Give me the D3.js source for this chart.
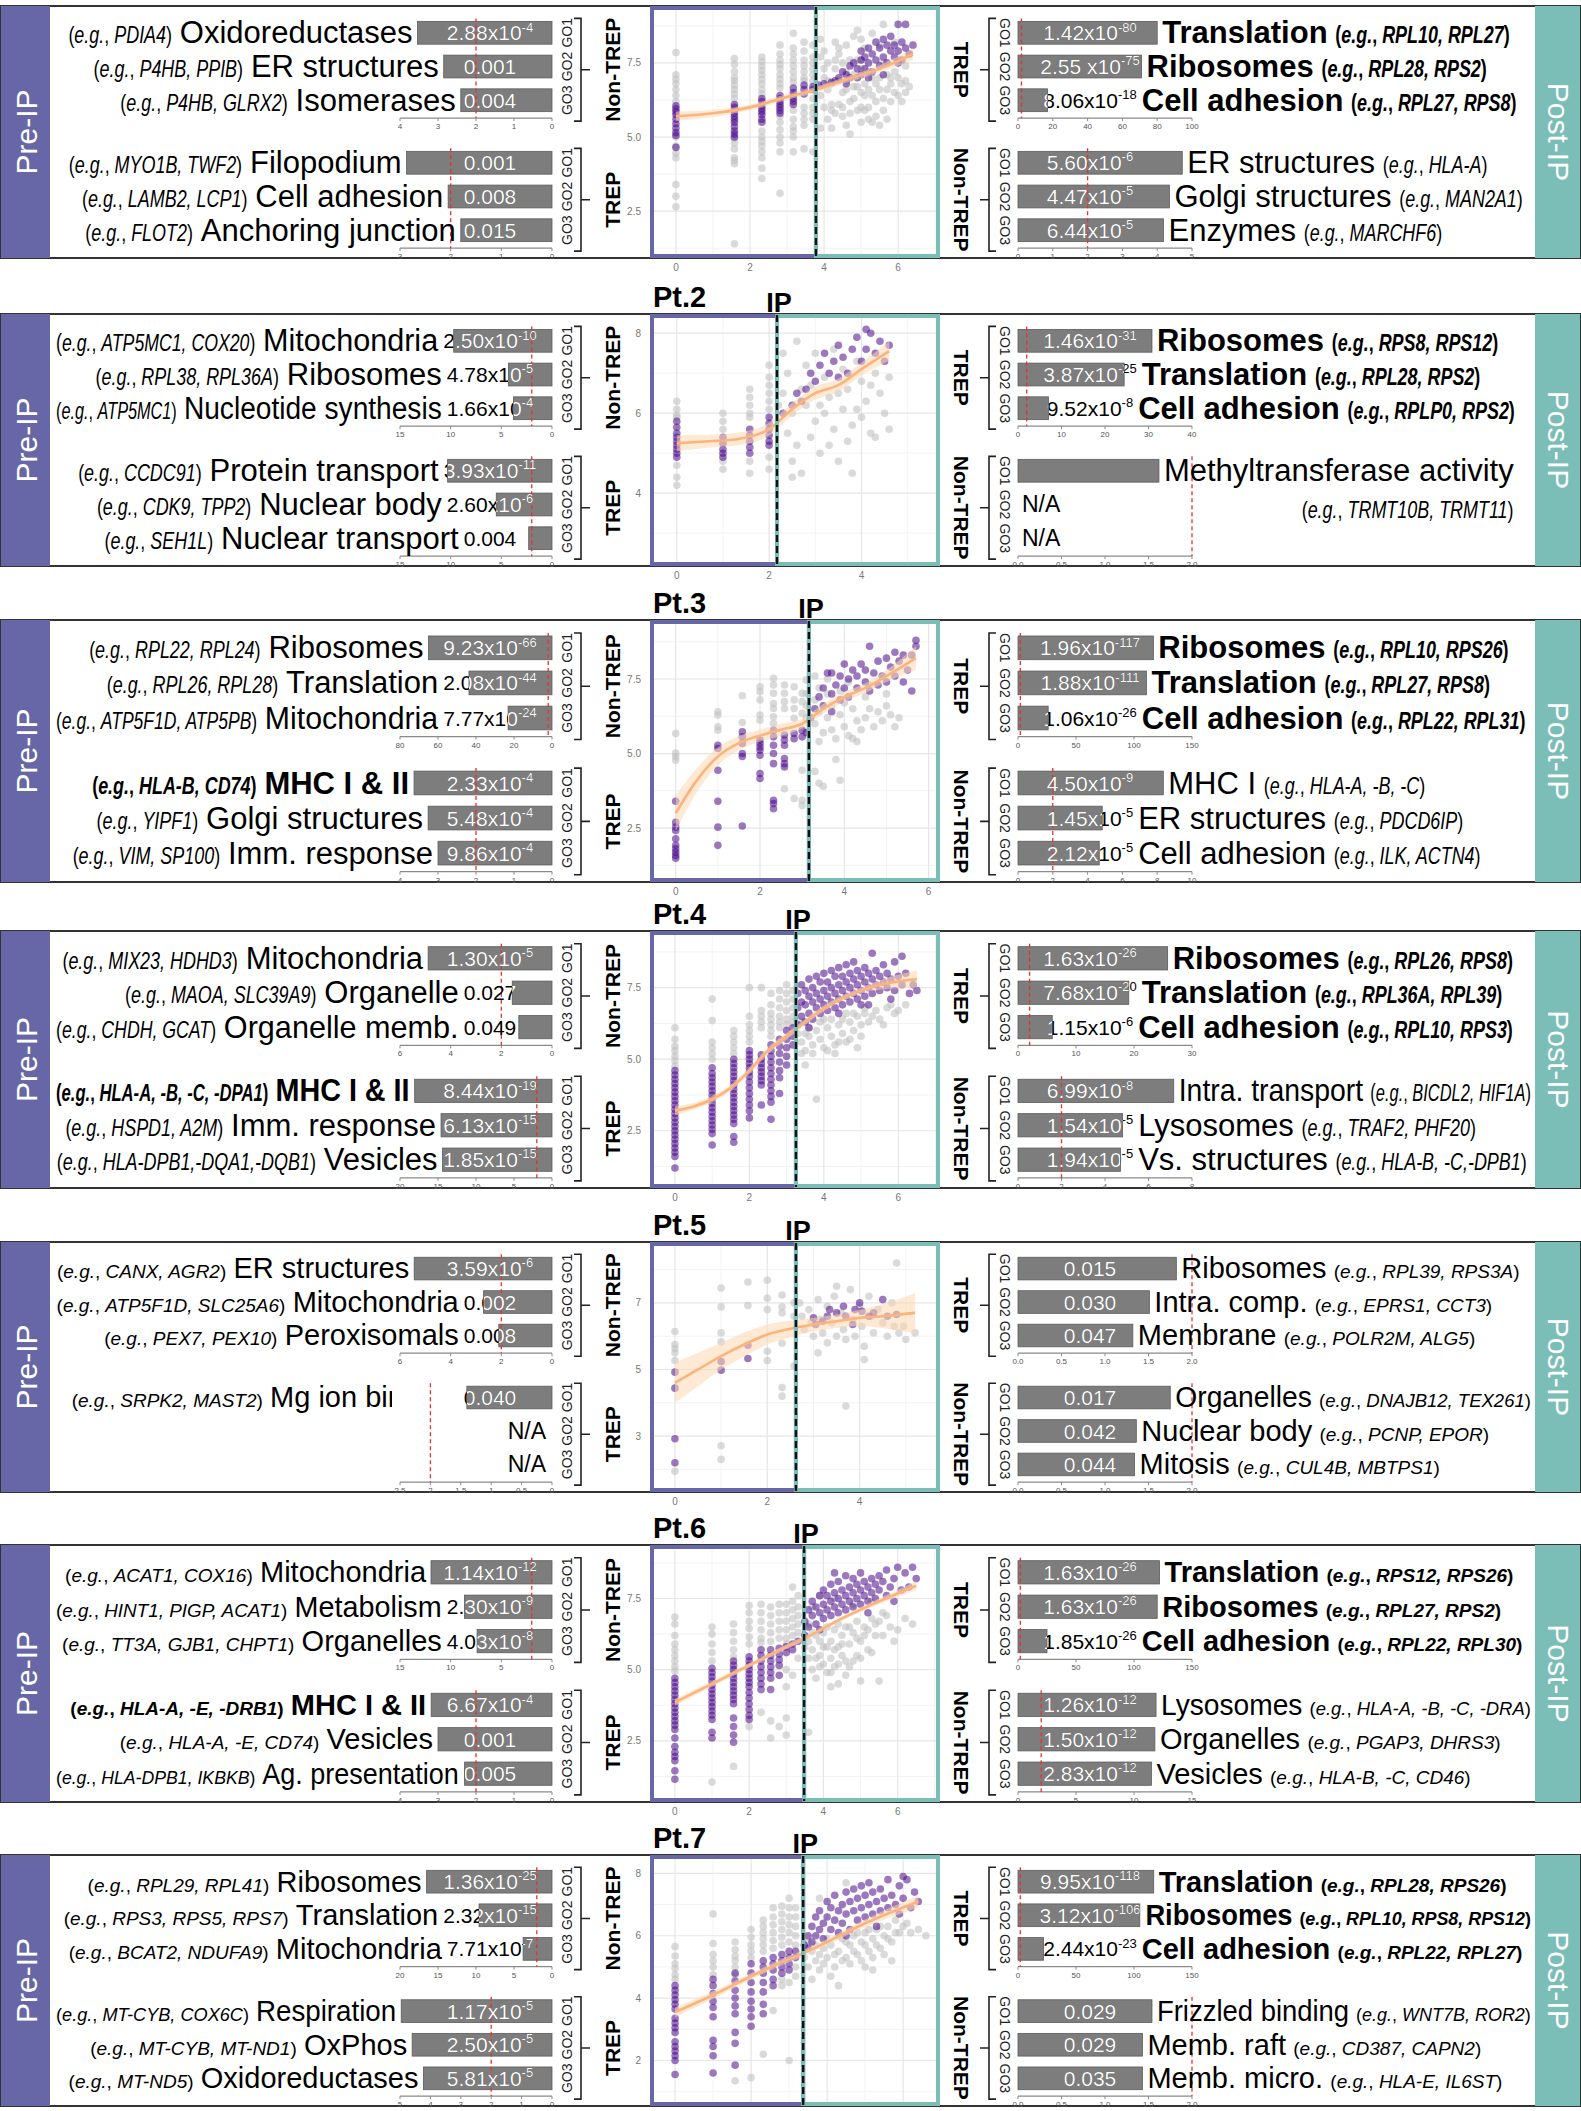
<!DOCTYPE html>
<html>
<head>
<meta charset="utf-8">
<script src="https://cdn.jsdelivr.net/npm/d3@7"></script>
<style>
  body { margin: 0; background: #fff; }
  svg { display: block; }
  svg text { font-family: 'Liberation Sans', Arial, sans-serif; }
</style>
</head>
<body>
<svg id="fig"></svg>
<script>
// ---------------- Data ----------------
// GO terms per patient. Rows 0-2 = first group (GO1-GO3), rows 3-5 = second group
// [term, example genes, adjusted p, bar length (-log10 p)], null = N/A
let preGO = [
  [['Oxidoreductases', 'PDIA4', '2.88x10^-4', 3.54], ['ER structures', 'P4HB, PPIB', '0.001', 2.85], ['Isomerases', 'P4HB, GLRX2', '0.004', 2.40],
   ['Filopodium', 'MYO1B, TWF2', '0.001', 2.87], ['Cell adhesion', 'LAMB2, LCP1', '0.008', 2.05], ['Anchoring junction', 'FLOT2', '0.015', 1.80]],
  [['Mitochondria', 'ATP5MC1, COX20', '2.50x10^-10', 9.7], ['Ribosomes', 'RPL38, RPL36A', '4.78x10^-5', 4.3], ['Nucleotide synthesis', 'ATP5MC1', '1.66x10^-4', 3.8],
   ['Protein transport', 'CCDC91', '3.93x10^-11', 10.3], ['Nuclear body', 'CDK9, TPP2', '2.60x10^-6', 5.5], ['Nuclear transport', 'SEH1L', '0.004', 2.3]],
  [['Ribosomes', 'RPL22, RPL24', '9.23x10^-66', 65], ['Translation', 'RPL26, RPL28', '2.08x10^-44', 43.7], ['Mitochondria', 'ATP5F1D, ATP5PB', '7.77x10^-24', 23.1],
   ['MHC I & II', 'HLA-B, CD74', '2.33x10^-4', 3.63], ['Golgi structures', 'YIPF1', '5.48x10^-4', 3.26], ['Imm. response', 'VIM, SP100', '9.86x10^-4', 3.0]],
  [['Mitochondria', 'MIX23, HDHD3', '1.30x10^-5', 4.89], ['Organelle', 'MAOA, SLC39A9', '0.027', 1.57], ['Organelle memb.', 'CHDH, GCAT', '0.049', 1.31],
   ['MHC I & II', 'HLA-A, -B, -C, -DPA1', '8.44x10^-19', 18.07], ['Imm. response', 'HSPD1, A2M', '6.13x10^-15', 14.6], ['Vesicles', 'HLA-DPB1,-DQA1,-DQB1', '1.85x10^-15', 14.4]],
  [['ER structures', 'CANX, AGR2', '3.59x10^-6', 5.44], ['Mitochondria', 'ATP5F1D, SLC25A6', '0.002', 2.7], ['Peroxisomals', 'PEX7, PEX10', '0.008', 2.1],
   ['Mg ion binding', 'SRPK2, MAST2', '0.040', 1.4, 'cut'], null, null],
  [['Mitochondria', 'ACAT1, COX16', '1.14x10^-12', 11.94], ['Metabolism', 'HINT1, PIGP, ACAT1', '2.30x10^-9', 8.64], ['Organelles', 'TT3A, GJB1, CHPT1', '4.03x10^-8', 7.39],
   ['MHC I & II', 'HLA-A, -E, -DRB1', '6.67x10^-4', 3.18], ['Vesicles', 'HLA-A, -E, CD74', '0.001', 3.0], ['Ag. presentation', 'HLA-DPB1, IKBKB', '0.005', 2.3]],
  [['Ribosomes', 'RPL29, RPL41', '1.36x10^-25', 16.5], ['Translation', 'RPS3, RPS5, RPS7', '2.32x10^-15', 9.6], ['Mitochondria', 'BCAT2, NDUFA9', '7.71x10^-7', 3.8],
   ['Respiration', 'MT-CYB, COX6C', '1.17x10^-5', 4.96], ['OxPhos', 'MT-CYB, MT-ND1', '2.50x10^-5', 4.6], ['Oxidoreductases', 'MT-ND5', '5.81x10^-5', 4.23]]
];
let preGroups = ['Non-TREP', 'TREP'];
let preBold = [[], [], [3], [3], [], [3], []];
let preTicks = [
  [['4', '3', '2', '1', '0'], ['3', '2', '1', '0']],
  [['15', '10', '5', '0'], ['15', '10', '5', '0']],
  [['80', '60', '40', '20', '0'], ['4', '3', '2', '1', '0']],
  [['6', '4', '2', '0'], ['20', '15', '10', '5', '0']],
  [['6', '4', '2', '0'], ['2.5', '2', '1.5', '1', '0.5', '0']],
  [['15', '10', '5', '0'], ['4', '3', '2', '1', '0']],
  [['20', '15', '10', '5', '0'], ['5', '4', '3', '2', '1', '0']]
];

let postGO = [
  [['Translation', 'RPL10, RPL27', '1.42x10^-80', 80], ['Ribosomes', 'RPL28, RPS2', '2.55 x10^-75', 71], ['Cell adhesion', 'RPL27, RPS8', '8.06x10^-18', 17],
   ['ER structures', 'HLA-A', '5.60x10^-6', 4.72], ['Golgi structures', 'MAN2A1', '4.47x10^-5', 4.35], ['Enzymes', 'MARCHF6', '6.44x10^-5', 4.18]],
  [['Ribosomes', 'RPS8, RPS12', '1.46x10^-31', 30.8], ['Translation', 'RPL28, RPS2', '3.87x10^-25', 24.4], ['Cell adhesion', 'RPLP0, RPS2', '9.52x10^-8', 7.0],
   ['Methyltransferase activity', 'TRMT10B, TRMT11', '', 1.62, 'wrap'], null, null],
  [['Ribosomes', 'RPL10, RPS26', '1.96x10^-117', 116.7], ['Translation', 'RPL27, RPS8', '1.88x10^-111', 110.7], ['Cell adhesion', 'RPL22, RPL31', '1.06x10^-26', 26.0],
   ['MHC I', 'HLA-A, -B, -C', '4.50x10^-9', 8.35], ['ER structures', 'PDCD6IP', '1.45x10^-5', 4.84], ['Cell adhesion', 'ILK, ACTN4', '2.12x10^-5', 4.67]],
  [['Ribosomes', 'RPL26, RPS8', '1.63x10^-26', 25.8], ['Translation', 'RPL36A, RPL39', '7.68x10^-20', 19.1], ['Cell adhesion', 'RPL10, RPS3', '1.15x10^-6', 5.9],
   ['Intra. transport', 'BICDL2, HIF1A', '6.99x10^-8', 7.16], ['Lysosomes', 'TRAF2, PHF20', '1.54x10^-5', 4.81], ['Vs. structures', 'HLA-B, -C,-DPB1', '1.94x10^-5', 4.71]],
  [['Ribosomes', 'RPL39, RPS3A', '0.015', 1.82], ['Intra. comp.', 'EPRS1, CCT3', '0.030', 1.51], ['Membrane', 'POLR2M, ALG5', '0.047', 1.32],
   ['Organelles', 'DNAJB12, TEX261', '0.017', 1.75], ['Nuclear body', 'PCNP, EPOR', '0.042', 1.36], ['Mitosis', 'CUL4B, MBTPS1', '0.044', 1.34]],
  [['Translation', 'RPS12, RPS26', '1.63x10^-26', 122], ['Ribosomes', 'RPL27, RPS2', '1.63x10^-26', 120], ['Cell adhesion', 'RPL22, RPL30', '1.85x10^-26', 25],
   ['Lysosomes', 'HLA-A, -B, -C, -DRA', '1.26x10^-12', 11.9], ['Organelles', 'PGAP3, DHRS3', '1.50x10^-12', 11.8], ['Vesicles', 'HLA-B, -C, CD46', '2.83x10^-12', 11.5]],
  [['Translation', 'RPL28, RPS26', '9.95x10^-118', 117], ['Ribosomes', 'RPL10, RPS8, RPS12', '3.12x10^-106', 105], ['Cell adhesion', 'RPL22, RPL27', '2.44x10^-23', 22],
   ['Frizzled binding', 'WNT7B, ROR2', '0.029', 1.54], ['Memb. raft', 'CD387, CAPN2', '0.029', 1.43], ['Memb. micro.', 'HLA-E, IL6ST', '0.035', 1.43]]
];
let postGroups = ['TREP', 'Non-TREP'];
let postBoldTREP = [true, true, true, true, false, true, true];
let postTicks = [
  [['0', '20', '40', '60', '80', '100'], ['0', '1', '2', '3', '4', '5']],
  [['0', '10', '20', '30', '40'], ['0.0', '0.5', '1.0', '1.5', '2.0']],
  [['0', '50', '100', '150'], ['0', '2', '4', '6', '8', '10']],
  [['0', '10', '20', '30'], ['0', '2', '4', '6', '8']],
  [['0.0', '0.5', '1.0', '1.5', '2.0'], ['0.0', '0.5', '1.0', '1.5', '2.0']],
  [['0', '50', '100', '150'], ['0', '5', '10', '15']],
  [['0', '50', '100', '150'], ['0.0', '0.5', '1.0', '1.5', '2.0']]
];
let pCutoff = 2; // -log10(0.01)

// Trajectory scatter: axes
let xDom = [[-0.70, 7.13], [-0.58, 5.70], [-0.61, 6.27], [-0.67, 7.12], [-0.54, 5.74], [-0.67, 7.14], [-0.66, 6.97]];
let yDom = [[0.92, 9.42], [2.18, 8.48], [0.69, 9.48], [0.50, 9.48], [1.32, 8.83], [0.35, 9.38], [0.54, 8.59]];
let ipTime = [3.78, 2.17, 3.16, 3.25, 2.62, 3.48, 3.37];
let xTickLabels = [['0', '2', '4', '6'], ['0', '2', '4'], ['0', '2', '4', '6'], ['0', '2', '4', '6'], ['0', '2', '4'], ['0', '2', '4', '6'], ['0', '2', '4', '6']];
let yTickLabels = [['2.5', '5.0', '7.5'], ['4', '6', '8'], ['2.5', '5.0', '7.5'], ['2.5', '5.0', '7.5'], ['3', '5', '7'], ['2.5', '5.0', '7.5'], ['2', '4', '6', '8']];

// Pre-IP sampled time points: [time, [values...]]
let grayCols = [
  [[0, [7.85, 7.1, 6.95, 6.8, 6.6, 6.4, 6.2, 5.0, 4.7, 4.45, 4.3, 3.4, 3.0, 2.65]],
   [1.58, [7.65, 7.45, 7.2, 7.0, 6.9, 6.75, 6.6, 6.45, 6.3, 4.95, 4.8, 4.6, 4.3, 4.2, 4.1, 1.4]],
   [2.32, [7.7, 7.55, 7.4, 7.25, 7.1, 6.95, 6.8, 6.6, 6.45, 5.2, 5.0, 4.85, 4.7, 4.5, 4.3, 3.95, 3.6]],
   [2.81, [8.1, 7.8, 7.6, 7.45, 7.3, 7.1, 6.95, 6.8, 6.65, 5.7, 5.5, 5.25, 5.0, 4.8, 4.5, 3.1]],
   [3.17, [8.5, 8.0, 7.8, 7.6, 7.4, 7.2, 7.0, 6.85, 5.9, 5.6, 5.35, 5.2, 5.0, 4.5]],
   [3.46, [8.2, 7.9, 7.6, 7.4, 7.2, 7.0, 6.9, 6.0, 5.8, 5.6, 5.4, 4.6]],
   [3.70, [8.1, 7.7, 7.5, 7.3, 7.1, 6.9, 6.3, 6.0, 5.8, 5.6, 4.5]]],
  [[0, [6.3, 6.1, 5.95, 5.9, 4.7, 4.4, 4.2]],
   [1, [6.0, 5.8, 5.6, 4.8, 4.6]],
   [1.58, [6.6, 6.4, 6.2, 6.0, 5.9, 4.8, 4.5]],
   [2, [7.2, 6.9, 6.7, 6.5, 6.3, 6.1, 4.9, 4.6]]],
  [[0, [5.67, 5.02, 4.9, 4.78]],
   [1, [6.4, 6.29, 5.9, 5.78]],
   [1.58, [6.94, 6.04]],
   [2, [7.24, 7.07, 6.8, 6.29, 6.12]],
   [2.32, [7.52, 7.3, 7.02, 6.68, 6.51, 6.23, 6.01]],
   [2.58, [7.3, 7.02, 6.74, 6.51, 3.82]],
   [2.81, [7.24, 6.8, 6.51, 6.18, 3.49]],
   [3.0, [7.02, 6.74, 6.35, 4.44, 3.43, 3.26]],
   [3.1, [7.47, 7.0, 6.6, 6.2]]],
  [[0, [6.1, 5.7, 5.45, 5.3, 5.1, 4.95, 4.75]],
   [1, [7.1, 6.35, 5.6, 5.4, 5.2, 5.0]],
   [1.58, [6.0, 5.8, 5.6, 5.4, 5.2]],
   [2, [7.5, 6.5, 6.2, 6.0, 5.8, 5.6]],
   [2.32, [7.5, 6.7, 6.5, 6.3, 6.1]],
   [2.58, [7.3, 6.9, 6.6, 6.4, 6.2, 6.0, 5.8]],
   [2.81, [7.4, 7.1, 6.8, 6.5, 6.3, 6.1]],
   [3.0, [7.6, 7.3, 7.0, 6.7, 6.4, 6.2]],
   [3.17, [7.4, 7.1, 6.8, 6.5, 6.3]]],
  [[0, [6.14, 5.75, 5.63, 5.5, 5.27, 1.94]],
   [1, [7.45, 6.88, 6.1, 5.83, 2.71, 2.3]],
   [1.58, [7.63, 6.92]],
   [2, [7.68, 7.14, 6.8, 5.55, 5.27]],
   [2.32, [7.24, 6.88, 6.7, 5.79, 4.46, 4.2]],
   [2.58, [7.0, 6.6, 5.1]]],
  [[0, [6.85, 6.6, 6.2, 5.9, 5.7, 5.5, 5.3, 5.1, 4.95]],
   [1, [6.5, 6.25, 5.9, 5.6, 5.3, 1.05]],
   [1.58, [6.6, 6.3, 6.0, 5.7, 5.45, 1.6]],
   [2, [7.25, 7.0, 6.7, 6.45, 6.15, 5.9, 3.0]],
   [2.32, [7.3, 7.0, 6.7, 6.4, 6.1, 5.95, 3.5]],
   [2.58, [7.2, 6.9, 6.6, 6.3, 6.0, 3.2, 2.6]],
   [2.81, [7.3, 7.0, 6.7, 6.4, 6.1, 3.0]],
   [3.0, [7.3, 7.0, 6.7, 6.4, 6.1, 5.9, 5.0, 4.4, 3.3, 2.7]],
   [3.17, [7.9, 7.4, 7.1, 6.8, 6.5, 6.2, 4.8]],
   [3.32, [7.6, 7.2, 6.9, 6.6, 6.3, 5.4]]],
  [[0, [5.65, 5.35, 5.1, 4.95, 4.75, 4.6]],
   [1, [6.7, 5.75, 5.4, 5.2, 5.0, 4.75]],
   [1.58, [5.8, 5.55, 5.35, 5.2, 5.0, 4.75, 1.35]],
   [2, [6.2, 5.95, 5.7, 5.5, 5.3, 1.45]],
   [2.32, [6.5, 6.3, 6.1, 5.9, 5.7, 5.5, 2.2]],
   [2.58, [6.9, 6.6, 6.35, 6.1, 5.85, 5.6, 3.6]],
   [2.81, [6.95, 6.7, 6.45, 6.2, 5.95, 5.7, 4.6, 4.4]],
   [3.0, [7.2, 6.9, 6.6, 6.35, 6.1, 5.8, 4.5, 2.0]],
   [3.17, [6.9, 6.6, 6.3, 6.0, 5.7, 5.0, 4.7]]]
];
let purpleCols = [
  [[0, [6.05, 5.95, 5.85, 5.75, 5.6, 5.45, 5.3, 5.15, 5.05, 4.65]],
   [1.58, [6.1, 6.0, 5.9, 5.8, 5.7, 5.6, 5.5, 5.35, 5.2, 5.1, 5.0]],
   [2.32, [6.3, 6.2, 6.05, 5.95, 5.85, 5.75, 5.6, 5.5]],
   [2.81, [6.4, 6.3, 6.2, 6.1, 6.0, 5.9, 5.8]],
   [3.17, [6.65, 6.5, 6.4, 6.3, 6.2, 6.1]],
   [3.46, [6.75, 6.6, 6.45]],
   [3.70, [6.7, 6.6]]],
  [[0, [5.8, 5.65, 5.5, 5.4, 5.3, 5.2, 5.1, 5.0, 4.9]],
   [1, [5.4, 5.25, 5.1, 5.0, 4.9]],
   [1.58, [5.6, 5.45, 5.3, 5.15, 5.0]],
   [2, [5.9, 5.75, 5.6, 5.45, 5.3, 5.2]]],
  [[0, [3.4, 2.69, 2.53, 2.42, 2.14, 1.92, 1.8, 1.69, 1.58, 1.49]],
   [1, [5.28, 5.17, 4.44, 3.4, 2.53, 1.92]],
   [1.58, [5.73, 5.56, 5.34, 5.0, 4.9, 2.57]],
   [2, [5.45, 5.34, 5.22, 5.11, 4.94, 4.33, 4.16]],
   [2.32, [5.78, 5.56, 5.28, 5.0, 4.66, 3.43, 3.32, 3.15]],
   [2.58, [5.62, 5.45, 5.28, 4.83, 4.66, 4.55]],
   [2.81, [5.67, 5.5]],
   [3.0, [5.78, 5.56]],
   [3.1, [5.7]]],
  [[0, [4.6, 4.45, 4.3, 4.15, 4.0, 3.85, 3.7, 3.55, 3.4, 3.25, 3.1, 2.95, 2.8, 2.65, 2.5, 2.35, 2.2, 2.05, 1.9, 1.75, 1.6, 1.2]],
   [1, [4.7, 4.5, 4.35, 4.2, 4.05, 3.9, 3.75, 3.6, 3.45, 3.3, 3.15, 3.0, 2.85, 2.7, 2.55, 2.4, 2.0]],
   [1.58, [5.0, 4.85, 4.7, 4.55, 4.4, 4.25, 4.1, 3.95, 3.8, 3.65, 3.5, 3.35, 3.2, 3.05, 2.9, 2.75, 2.3, 2.1]],
   [2, [5.3, 5.15, 5.0, 4.85, 4.7, 4.55, 4.4, 4.2, 4.0, 3.8, 3.6, 3.4, 3.2, 2.95]],
   [2.32, [5.15, 5.0, 4.85, 4.7, 4.55, 4.4, 4.25, 4.1, 3.4]],
   [2.58, [5.5, 5.3, 5.1, 4.9, 4.7, 4.5, 4.3, 4.1, 3.9, 3.7, 3.5, 2.9]],
   [2.81, [5.7, 5.45, 5.2, 4.9, 4.6, 4.35, 3.8]],
   [3.0, [6.0, 5.7, 5.4, 5.1, 4.8]],
   [3.17, [6.1, 5.8, 5.5]]],
  [[0, [4.92, 4.44, 2.92, 2.2]],
   [1, [5.24, 4.98]],
   [1.58, [5.73, 5.33]]],
  [[0, [4.7, 4.55, 4.4, 4.25, 4.1, 3.95, 3.8, 3.65, 3.5, 3.35, 3.2, 3.05, 2.9, 2.6, 2.3, 2.1, 1.95, 1.8, 1.45, 1.15]],
   [1, [5.05, 4.9, 4.75, 4.6, 4.45, 4.3, 4.15, 4.0, 3.85, 3.7, 3.55, 3.4, 3.25, 2.8, 2.6]],
   [1.58, [5.3, 5.15, 5.0, 4.85, 4.7, 4.55, 4.4, 4.25, 4.1, 3.95, 3.8, 3.3, 3.0, 2.7, 2.45]],
   [2, [5.45, 5.3, 5.15, 5.0, 4.85, 4.7, 4.55, 4.4, 4.2, 4.0, 3.8, 3.6, 3.4, 3.25]],
   [2.32, [5.7, 5.5, 5.3, 5.1, 4.9, 4.7, 4.5, 4.3]],
   [2.58, [5.7, 5.5, 5.3, 5.1, 4.9, 4.7, 4.3]],
   [2.81, [5.75, 5.55, 5.35, 5.15, 4.8]],
   [3.0, [5.8, 5.6]],
   [3.17, [5.9, 5.7]],
   [3.32, [6.0]]],
  [[0, [4.4, 4.25, 4.1, 3.95, 3.8, 3.65, 3.35, 3.2, 3.05, 2.9, 2.6, 2.45, 2.3, 2.15, 2.0, 1.55]],
   [1, [4.6, 4.4, 4.15, 3.9, 3.7, 3.4, 2.65, 2.45, 2.15, 1.6]],
   [1.58, [4.8, 4.55, 4.25, 4.0, 3.75, 3.5, 2.9, 2.55, 1.85]],
   [2, [5.1, 4.8, 4.5, 4.2, 3.9, 3.65, 3.4, 3.1]],
   [2.32, [5.2, 5.0, 4.8, 4.5, 4.2, 3.8, 3.5]],
   [2.58, [5.3, 5.1, 4.9, 4.6, 4.4]],
   [2.81, [5.4, 5.2, 5.0, 4.8]],
   [3.0, [5.5, 5.3, 5.1, 4.9]],
   [3.17, [5.5, 5.3]]]
];

// Post-IP cells: [time, value]
let grayCloud = [
  [[3.9, 8.3], [4.0, 7.9], [4.1, 7.5], [4.0, 7.0], [3.9, 6.4], [4.0, 6.0], [4.1, 5.6], [4.2, 5.3], [4.3, 8.2], [4.4, 7.8], [4.3, 7.3], [4.4, 6.9], [4.5, 6.5], [4.4, 6.1], [4.5, 5.7], [4.6, 5.4], [4.7, 5.1], [4.8, 8.4], [4.7, 7.6], [4.8, 7.1], [4.9, 6.7], [4.8, 6.3], [4.9, 5.9], [5.0, 5.5], [5.1, 8.0], [5.0, 7.6], [5.2, 7.2], [5.1, 6.8], [5.3, 6.4], [5.2, 6.0], [5.4, 5.7], [5.5, 5.4], [5.3, 8.5], [5.5, 8.1], [5.6, 7.5], [5.5, 7.0], [5.7, 6.6], [5.8, 6.2], [5.6, 5.9], [5.9, 8.2], [6.0, 7.6], [5.9, 7.2], [6.1, 6.8], [6.0, 6.4], [6.2, 6.9], [6.3, 6.7], [6.2, 7.4], [4.2, 6.8], [4.6, 7.2], [5.0, 6.5], [5.4, 6.8], [5.8, 7.0], [4.1, 6.6], [4.6, 6.6], [5.2, 5.6], [5.7, 5.6], [6.3, 7.8], [4.9, 8.6], [5.6, 8.8],
   [4.0, 7.3], [4.1, 6.9], [4.2, 6.1], [4.3, 5.8], [4.3, 7.6], [4.5, 7.5], [4.5, 6.0], [4.6, 6.9], [4.7, 6.2], [4.7, 5.8], [4.8, 6.7], [4.9, 7.6], [5.0, 6.0], [5.0, 7.3], [5.1, 6.4], [5.1, 5.9], [5.2, 6.6], [5.3, 7.0], [5.3, 5.5], [5.4, 6.2], [5.5, 6.6], [5.6, 6.3], [5.7, 7.1], [5.8, 6.8], [5.9, 6.5], [6.0, 7.0], [6.1, 6.2], [6.2, 6.5], [4.4, 8.0], [5.0, 8.3], [4.6, 8.1], [3.9, 7.7], [3.9, 5.3], [4.2, 5.9]],
  [[2.3, 7.5], [2.4, 7.0], [2.3, 6.5], [2.5, 6.0], [2.4, 5.5], [2.6, 5.2], [2.5, 4.8], [2.7, 4.5], [2.6, 7.8], [2.8, 7.2], [2.9, 6.7], [2.8, 6.2], [3.0, 5.8], [2.9, 5.4], [3.1, 5.0], [3.0, 7.5], [3.2, 6.9], [3.3, 6.4], [3.2, 6.0], [3.4, 5.6], [3.3, 5.2], [3.5, 4.8], [3.4, 7.6], [3.6, 7.1], [3.7, 6.6], [3.6, 6.1], [3.8, 5.7], [3.7, 5.3], [3.9, 7.3], [4.0, 6.8], [4.1, 6.3], [4.0, 5.9], [4.2, 5.5], [4.3, 7.0], [4.4, 6.5], [4.5, 6.0], [4.3, 5.4], [2.2, 6.2], [2.7, 6.6], [3.1, 6.2], [3.5, 6.5], [3.9, 6.1], [4.2, 6.7], [4.6, 6.9], [2.5, 4.4], [3.8, 4.5], [4.6, 5.6]],
  [[3.3, 7.6], [3.4, 7.2], [3.3, 6.8], [3.4, 6.4], [3.3, 6.0], [3.5, 5.7], [3.4, 5.4], [3.3, 4.4], [3.4, 4.0], [3.5, 3.9], [3.6, 7.0], [3.7, 6.6], [3.6, 6.2], [3.7, 5.8], [3.8, 5.5], [3.9, 7.1], [4.0, 6.7], [3.9, 6.3], [4.0, 5.9], [4.1, 5.6], [3.8, 4.8], [3.9, 4.1], [4.2, 6.5], [4.3, 6.1], [4.4, 5.8], [4.2, 5.5], [4.5, 6.9], [4.6, 6.5], [4.5, 6.2], [4.7, 5.9], [4.8, 6.4], [4.9, 6.1], [5.0, 6.6], [5.1, 6.3], [5.2, 5.9], [5.3, 6.2], [4.6, 7.3], [4.1, 7.4], [3.6, 7.5], [5.0, 7.0], [4.3, 5.4]],
  [[3.3, 5.9], [3.4, 5.6], [3.5, 5.3], [3.6, 5.8], [3.7, 5.5], [3.8, 6.0], [3.9, 5.7], [4.0, 5.4], [4.1, 6.1], [4.2, 5.8], [4.3, 5.5], [4.4, 6.2], [4.5, 5.9], [4.6, 5.6], [4.7, 6.3], [4.8, 6.0], [4.9, 6.5], [5.0, 6.2], [5.1, 6.6], [5.2, 6.3], [5.4, 6.7], [5.5, 6.4], [5.7, 6.8], [5.9, 6.6], [3.8, 3.6], [3.4, 6.3], [4.0, 6.4], [4.6, 6.6], [3.5, 4.8],
   [3.4, 5.2], [3.6, 6.1], [3.7, 5.2], [3.9, 6.3], [4.1, 5.3], [4.2, 6.4], [4.4, 5.6], [4.5, 6.4], [4.7, 5.7], [4.8, 6.6], [5.0, 5.8], [5.1, 6.8], [5.3, 6.5], [5.6, 6.2], [5.8, 6.9], [6.0, 6.7], [6.2, 6.9], [3.5, 5.9], [4.3, 5.2], [4.9, 5.4]],
  [[2.7, 7.0], [2.75, 6.6], [2.8, 6.2], [2.9, 6.8], [2.95, 6.4], [3.0, 6.0], [3.1, 7.1], [3.15, 6.5], [3.2, 6.1], [3.3, 6.9], [3.3, 5.8], [3.4, 6.4], [3.45, 7.2], [3.5, 6.0], [3.6, 6.7], [3.65, 6.2], [3.7, 5.9], [3.8, 7.4], [3.85, 6.5], [3.9, 6.0], [4.0, 6.9], [4.05, 6.3], [4.1, 5.7], [4.2, 7.2], [4.25, 6.6], [4.3, 6.1], [4.4, 6.8], [4.5, 6.4], [4.6, 6.0], [4.7, 7.0], [4.75, 6.3], [4.8, 8.2], [4.85, 6.1], [4.95, 6.3], [5.0, 5.9], [5.2, 6.1], [3.7, 3.9], [3.1, 5.5], [4.1, 5.3], [3.5, 7.5]],
  [[3.5, 5.8], [3.6, 5.4], [3.6, 6.0], [3.7, 5.0], [3.7, 5.7], [3.8, 6.2], [3.8, 4.7], [3.9, 5.5], [3.9, 6.0], [4.0, 5.2], [4.0, 6.3], [4.1, 5.8], [4.1, 4.9], [4.2, 6.0], [4.2, 5.4], [4.3, 6.4], [4.3, 5.1], [4.4, 5.8], [4.4, 6.6], [4.5, 5.5], [4.5, 6.2], [4.6, 4.8], [4.6, 6.5], [4.7, 5.9], [4.8, 6.3], [4.8, 5.3], [4.9, 6.7], [5.0, 6.0], [5.1, 6.5], [5.2, 5.7], [5.3, 6.8], [5.4, 6.2], [5.5, 6.7], [5.6, 7.0], [5.8, 6.5], [5.9, 6.0], [4.2, 4.4], [3.6, 2.8], [5.0, 4.6], [3.9, 7.6], [4.3, 7.5], [4.8, 7.3], [5.3, 7.4], [3.7, 7.2],
   [3.6, 6.6], [3.7, 6.3], [3.8, 5.4], [3.9, 5.1], [4.0, 5.8], [4.1, 6.5], [4.2, 4.9], [4.3, 5.7], [4.4, 5.2], [4.5, 5.9], [4.6, 5.3], [4.7, 6.5], [4.7, 5.1], [4.9, 5.5], [4.9, 6.1], [5.0, 5.4], [5.1, 6.2], [5.2, 6.4], [5.3, 5.6], [5.4, 6.6], [5.6, 6.2], [5.7, 6.9], [6.0, 6.4], [6.2, 6.8], [4.4, 4.5], [5.5, 4.6], [6.4, 6.6]],
  [[3.4, 5.3], [3.5, 5.0], [3.6, 5.5], [3.7, 5.2], [3.8, 4.9], [3.9, 5.6], [4.0, 5.3], [4.1, 5.7], [4.2, 5.0], [4.3, 5.5], [4.4, 5.9], [4.5, 5.3], [4.6, 5.7], [4.7, 6.0], [4.8, 5.4], [4.9, 5.8], [5.0, 6.1], [5.1, 5.5], [5.2, 5.9], [5.3, 6.2], [5.4, 5.6], [5.5, 6.0], [5.6, 6.3], [5.7, 5.8], [5.9, 6.1], [6.1, 6.4], [6.4, 6.2], [6.6, 6.0], [4.1, 4.7], [3.6, 4.6], [3.8, 7.2], [4.5, 7.7], [5.0, 5.0], [5.8, 6.5],
   [3.5, 5.8], [3.7, 5.7], [3.8, 5.4], [3.9, 5.1], [4.0, 5.9], [4.2, 5.4], [4.3, 6.0], [4.4, 5.2], [4.5, 5.8], [4.6, 5.1], [4.7, 5.5], [4.8, 6.1], [4.9, 5.2], [5.0, 5.7], [5.1, 6.2], [5.2, 5.3], [5.3, 5.7], [5.4, 6.3], [5.5, 5.4], [5.6, 5.9], [5.8, 6.1], [6.0, 6.3], [6.2, 6.1], [4.3, 4.4], [5.2, 4.9], [5.7, 5.2]]
];
let purpleCloud = [
  [[3.85, 6.75], [4.0, 6.8], [4.2, 6.85], [4.3, 6.9], [4.4, 7.0], [4.5, 7.2], [4.6, 7.1], [4.7, 7.4], [4.7, 7.0], [4.8, 7.5], [4.9, 7.3], [4.9, 7.0], [5.0, 7.6], [5.0, 7.9], [5.1, 7.3], [5.1, 7.7], [5.2, 8.0], [5.2, 7.5], [5.3, 7.8], [5.3, 7.2], [5.4, 8.2], [5.4, 7.6], [5.5, 8.0], [5.5, 7.4], [5.6, 8.3], [5.6, 7.7], [5.7, 8.1], [5.7, 7.5], [5.8, 7.9], [5.8, 8.4], [5.9, 7.7], [5.9, 8.1], [6.0, 8.8], [6.0, 7.9], [6.1, 8.2], [6.1, 7.6], [6.2, 8.8], [6.2, 8.0], [6.3, 7.8], [6.4, 8.1], [5.2, 7.0], [5.6, 7.1], [6.0, 7.5], [4.6, 6.8], [5.0, 7.1]],
  [[2.3, 6.0], [2.5, 6.2], [2.6, 6.5], [2.8, 6.6], [2.9, 7.0], [3.0, 6.8], [3.1, 7.2], [3.2, 7.5], [3.3, 7.0], [3.4, 7.3], [3.5, 7.7], [3.6, 7.4], [3.7, 7.0], [3.8, 7.6], [3.9, 7.9], [4.0, 7.3], [4.1, 7.6], [4.2, 8.0], [4.3, 7.5], [4.4, 7.8], [4.5, 7.3], [4.6, 7.7], [3.5, 6.9], [2.7, 6.3], [4.1, 8.1]],
  [[3.2, 6.2], [3.3, 6.5], [3.4, 6.9], [3.5, 7.2], [3.5, 6.6], [3.6, 7.7], [3.7, 7.0], [3.7, 6.4], [3.8, 7.3], [3.9, 6.8], [3.9, 7.6], [4.0, 7.2], [4.0, 8.0], [4.1, 7.5], [4.1, 6.9], [4.2, 7.8], [4.3, 7.2], [4.3, 7.6], [4.4, 8.0], [4.5, 7.4], [4.5, 7.8], [4.6, 7.1], [4.7, 7.7], [4.8, 7.3], [4.8, 8.1], [4.9, 7.6], [5.0, 8.2], [5.0, 7.4], [5.1, 7.9], [5.2, 8.4], [5.2, 7.6], [5.3, 8.1], [5.4, 8.3], [5.4, 7.4], [5.5, 7.8], [5.6, 8.3], [5.6, 7.1], [5.7, 8.8], [5.7, 8.6], [4.6, 8.6], [3.7, 7.7]],
  [[3.3, 6.2], [3.3, 6.8], [3.3, 7.3], [3.4, 6.5], [3.4, 7.0], [3.4, 7.6], [3.5, 6.3], [3.5, 6.9], [3.5, 7.4], [3.6, 6.6], [3.6, 7.2], [3.6, 7.8], [3.7, 6.4], [3.7, 7.0], [3.7, 7.5], [3.8, 6.8], [3.8, 7.3], [3.8, 7.9], [3.9, 6.6], [3.9, 7.1], [3.9, 7.7], [4.0, 6.9], [4.0, 7.4], [4.0, 8.0], [4.1, 6.7], [4.1, 7.2], [4.1, 7.7], [4.2, 7.0], [4.2, 7.5], [4.2, 8.1], [4.3, 6.8], [4.3, 7.3], [4.3, 7.9], [4.4, 7.1], [4.4, 7.6], [4.4, 8.2], [4.5, 6.9], [4.5, 7.4], [4.5, 7.9], [4.6, 7.2], [4.6, 7.7], [4.6, 8.3], [4.7, 7.0], [4.7, 7.5], [4.7, 8.0], [4.8, 7.3], [4.8, 7.8], [4.8, 8.4], [4.9, 7.1], [4.9, 7.6], [4.9, 8.1], [5.0, 7.4], [5.0, 7.9], [5.0, 6.9], [5.1, 7.2], [5.1, 7.7], [5.1, 8.2], [5.2, 7.5], [5.2, 8.0], [5.3, 7.3], [5.3, 7.8], [5.3, 8.7], [5.4, 7.6], [5.4, 8.1], [5.5, 7.4], [5.5, 7.9], [5.6, 7.7], [5.6, 8.3], [5.7, 7.5], [5.7, 8.0], [5.8, 7.8], [5.9, 7.4], [5.9, 8.4], [6.0, 7.9], [6.1, 7.6], [6.1, 8.6], [6.2, 8.0], [6.3, 7.3], [6.4, 7.6], [6.5, 7.4], [5.8, 7.1], [5.2, 6.9], [4.4, 6.6], [3.6, 6.1]],
  [[3.0, 6.55], [3.05, 6.35], [3.3, 6.6], [3.35, 6.8], [3.5, 6.7], [3.65, 6.9], [3.7, 6.6], [3.9, 6.8], [4.0, 7.0], [4.05, 6.75], [4.2, 6.6], [4.3, 6.7], [4.5, 7.1], [4.6, 6.6], [4.8, 6.65], [3.85, 6.35], [3.2, 6.45]],
  [[3.5, 6.2], [3.5, 6.7], [3.6, 7.1], [3.6, 6.5], [3.7, 6.9], [3.7, 7.4], [3.8, 6.6], [3.8, 7.2], [3.9, 7.6], [3.9, 7.0], [4.0, 6.8], [4.0, 7.3], [4.0, 7.8], [4.1, 7.1], [4.1, 7.6], [4.2, 6.9], [4.2, 7.4], [4.2, 8.0], [4.3, 7.2], [4.3, 7.7], [4.4, 7.0], [4.4, 7.5], [4.4, 8.1], [4.5, 7.3], [4.5, 7.8], [4.6, 7.1], [4.6, 7.6], [4.6, 8.3], [4.7, 7.4], [4.7, 7.9], [4.8, 7.2], [4.8, 7.7], [4.8, 8.2], [4.9, 7.5], [4.9, 8.0], [5.0, 7.3], [5.0, 7.8], [5.0, 8.4], [5.1, 7.6], [5.1, 8.1], [5.2, 7.4], [5.2, 7.9], [5.3, 8.2], [5.3, 7.7], [5.4, 8.0], [5.4, 7.5], [5.5, 8.3], [5.5, 7.8], [5.6, 8.1], [5.7, 7.6], [5.7, 8.5], [5.8, 7.9], [5.9, 8.2], [5.9, 7.4], [6.0, 8.6], [6.1, 7.8], [6.2, 8.4], [6.3, 7.9], [6.4, 8.6], [6.5, 8.2], [4.3, 8.4], [5.2, 7.0], [3.9, 6.4]],
  [[3.4, 5.7], [3.5, 6.0], [3.5, 5.6], [3.6, 6.3], [3.6, 5.8], [3.7, 6.6], [3.7, 6.0], [3.8, 6.2], [3.8, 6.8], [3.9, 6.4], [3.9, 5.9], [4.0, 6.6], [4.0, 7.1], [4.1, 6.2], [4.1, 6.9], [4.2, 6.5], [4.2, 7.3], [4.3, 6.8], [4.3, 6.1], [4.4, 7.0], [4.4, 6.4], [4.5, 7.4], [4.5, 6.7], [4.6, 6.2], [4.6, 7.1], [4.7, 6.8], [4.7, 7.5], [4.8, 6.5], [4.8, 7.2], [4.9, 6.9], [4.9, 7.6], [5.0, 6.6], [5.0, 7.3], [5.1, 7.0], [5.1, 7.7], [5.2, 6.7], [5.2, 7.4], [5.3, 7.1], [5.4, 6.8], [5.4, 7.5], [5.5, 7.2], [5.6, 6.9], [5.6, 7.8], [5.7, 7.3], [5.8, 7.0], [5.9, 7.6], [6.0, 7.2], [6.1, 7.8], [6.2, 6.9], [6.3, 7.4], [6.4, 7.1], [4.5, 6.0], [5.3, 6.3], [5.9, 6.7], [6.0, 7.9]]
];

// Smoothed trend: [time, fit, standard error]
let fitCurve = [
  [[0, 5.7, 0.08], [1, 5.8, 0.06], [2, 6.0, 0.05], [3, 6.35, 0.05], [3.8, 6.6, 0.05], [4.5, 6.9, 0.05], [5.5, 7.3, 0.06], [6.4, 7.8, 0.1]],
  [[0, 5.25, 0.1], [0.7, 5.3, 0.08], [1.3, 5.35, 0.08], [2, 5.6, 0.08], [2.5, 6.1, 0.08], [3, 6.5, 0.08], [3.5, 6.7, 0.08], [4, 7.1, 0.08], [4.6, 7.55, 0.12]],
  [[0, 3.0, 0.3], [0.5, 4.1, 0.2], [1, 4.9, 0.15], [1.5, 5.35, 0.12], [2, 5.6, 0.1], [2.5, 5.8, 0.1], [3, 6.0, 0.08], [3.5, 6.5, 0.08], [4, 6.9, 0.08], [4.5, 7.2, 0.08], [5, 7.6, 0.1], [5.7, 8.2, 0.2]],
  [[0, 3.2, 0.08], [0.5, 3.35, 0.06], [1, 3.6, 0.06], [1.5, 4.0, 0.06], [2, 4.6, 0.06], [2.5, 5.3, 0.06], [3, 5.8, 0.06], [3.3, 6.1, 0.05], [3.8, 6.6, 0.05], [4.3, 7.0, 0.05], [4.8, 7.3, 0.05], [5.5, 7.6, 0.08], [6.5, 7.8, 0.15]],
  [[0, 4.6, 0.3], [0.5, 5.0, 0.25], [1, 5.4, 0.2], [1.5, 5.75, 0.18], [2, 6.05, 0.15], [2.6, 6.25, 0.12], [3, 6.35, 0.1], [3.5, 6.45, 0.1], [4, 6.55, 0.12], [4.5, 6.6, 0.18], [5.2, 6.7, 0.3]],
  [[0, 3.85, 0.06], [1, 4.5, 0.05], [2, 5.15, 0.04], [3, 5.8, 0.04], [3.5, 6.1, 0.04], [4.5, 6.8, 0.04], [5.5, 7.4, 0.05], [6.5, 7.95, 0.08]],
  [[0, 3.55, 0.08], [1, 4.1, 0.06], [2, 4.7, 0.05], [3, 5.25, 0.05], [3.4, 5.45, 0.05], [4, 5.8, 0.05], [5, 6.4, 0.06], [6.4, 7.1, 0.1]]
];

// ---------------- Layout ----------------
let W = 1581, H = 2111;
let panelTop = [6, 314, 620, 931, 1242, 1545, 1855];
let panelBot = [258, 566, 882, 1188, 1492, 1802, 2106];
let rowRel = [27, 61, 95, 158, 192, 226];
let axisRel = [113, 244];
let preX0 = 400, preX1 = 552;      // left bar axis (max .. 0)
let postX0 = 1018, postX1 = 1192;  // right bar axis (0 .. max)
let scX0 = 650, scX1 = 940;
let pSize = 21;
let preColor = '#6767a8', postColor = '#7bbdb7';
let purple = '#4a0a8a', grey = '#c2c2c2';

// text style per patient: first four panels use a condensed gene list
let textStyle = (p) => p < 4
  ? { term: 31, gene: 23, squeeze: 0.78 }
  : { term: 29, gene: 19, squeeze: 1.0 };

let svg = d3.select('#fig').attr('width', W).attr('height', H);
let defs = svg.append('defs');
let clipCount = 0;

let addClip = (x, y, w, h) => {
  let id = 'clip' + (clipCount++);
  defs.append('clipPath').attr('id', id)
    .append('rect').attr('x', x).attr('y', y).attr('width', w).attr('height', h);
  return 'url(#' + id + ')';
};

// text piece placed in its own group so that it can be squeezed horizontally
let piece = (parent, build) => {
  let g = parent.append('g');
  let t = g.append('text').attr('x', 0).attr('y', 0).attr('fill', '#000');
  build(t);
  let w = t.node().getComputedTextLength();
  return { g: g, w: w };
};

let geneText = (parent, genes, bold, size) => piece(parent, (t) => {
  [['(', false], ['e.g.', true], [', ', false], [genes, true], [')', false]].forEach(([s, it]) => {
    t.append('tspan').text(s).attr('font-size', size)
      .attr('font-style', it ? 'italic' : null).attr('font-weight', bold ? 'bold' : null);
  });
});

let termText = (parent, term, bold, size) => piece(parent, (t) => {
  t.attr('font-size', size).attr('font-weight', bold ? 'bold' : null).text(term);
});

// row label: genes + term (pre) or term + genes (post); anchored at edge
let rowLabel = (parent, p, pre, edge, base, term, genes, bold, maxW) => {
  let st = textStyle(p);
  let tp = termText(parent, term, bold, st.term);
  let gp = geneText(parent, genes, bold, st.gene);
  let gap = st.term * 0.25;
  let gw = gp.w * st.squeeze, tw = tp.w;
  let s = 1;
  if (maxW && tw + gw + gap > maxW) s = maxW / (tw + gw + gap);
  tw *= s; gw *= s; gap *= s;
  let tx, gx;
  if (pre) { tx = edge - tw; gx = tx - gap - gw; }
  else { tx = edge; gx = edge + tw + gap; }
  tp.g.attr('transform', 'translate(' + tx + ',' + base + ') scale(' + s + ',1)');
  gp.g.attr('transform', 'translate(' + gx + ',' + base + ') scale(' + (s * st.squeeze) + ',1)');
  return tw + gap + gw;
};

// p-value label: black outside the bar, white where it overlaps the bar
let pLabel = (parent, cx, y, label, bar) => {
  let [m, e] = label.split('^');
  let draw = (g, fill) => {
    let t = g.append('text').attr('x', cx).attr('y', y).attr('text-anchor', 'middle')
      .attr('font-size', pSize).attr('fill', fill);
    t.append('tspan').text(m);
    if (e) t.append('tspan').text(e).attr('font-size', pSize * 0.62).attr('dy', -pSize * 0.42);
    return t;
  };
  let t = draw(parent, '#000');
  draw(parent.append('g').attr('clip-path', addClip(bar.x, bar.y, bar.w, bar.h)), '#fff');
  return t.node().getBBox();
};

// Draw one group of three GO bars
let drawGroup = (p, side, gi) => {
  let pre = side === 'pre';
  let st = textStyle(p);
  let rows = (pre ? preGO : postGO)[p].slice(gi * 3, gi * 3 + 3);
  let ticks = (pre ? preTicks : postTicks)[p][gi];
  let maxV = d3.max(ticks, (d) => +d);
  let x = d3.scaleLinear().domain([0, maxV]).range(pre ? [preX1, preX0] : [postX0, postX1]);
  let k = (panelBot[p] - panelTop[p]) / 254;
  let ys = [0, 1, 2].map((r) => panelTop[p] + rowRel[gi * 3 + r] * k);
  let ay = panelTop[p] + axisRel[gi] * k;
  let bh = 23 * k;
  let g = svg.append('g');

  // bars
  let bars = rows.map((row, r) => {
    if (!row) return null;
    let xa = x(0), xb = x(row[3]);
    let b = { x: Math.min(xa, xb), y: ys[r] - bh / 2, w: Math.abs(xb - xa), h: bh };
    g.append('rect').attr('x', b.x).attr('y', b.y).attr('width', b.w).attr('height', b.h)
      .attr('fill', '#7d7d7d').attr('stroke', '#5c5c5c').attr('stroke-width', 0.8);
    return b;
  });

  // axis
  let ax = g.append('g').attr('transform', 'translate(0,' + ay + ')');
  ax.append('line').attr('x1', x(0)).attr('x2', x(maxV)).attr('stroke', '#8a8a8a').attr('stroke-width', 1.2);
  ticks.forEach((tk) => {
    ax.append('line').attr('x1', x(+tk)).attr('x2', x(+tk)).attr('y1', 0).attr('y2', 3).attr('stroke', '#8a8a8a');
    ax.append('text').attr('x', x(+tk)).attr('y', 11).attr('text-anchor', 'middle')
      .attr('font-size', 8).attr('fill', '#555').text(tk);
  });

  // significance cut-off
  g.append('line').attr('x1', x(pCutoff)).attr('x2', x(pCutoff))
    .attr('y1', ys[0] - bh / 2 - 3).attr('y2', ay)
    .attr('stroke', '#e8312f').attr('stroke-width', 1.3).attr('stroke-dasharray', '4,3');

  // labels
  rows.forEach((row, r) => {
    let base = ys[r] + st.term * 0.34;
    let bold = pre ? preBold[p].includes(gi * 3 + r) : (postBoldTREP[p] && gi === 0);
    if (!row) {
      g.append('text').attr('x', pre ? preX1 - 6 : postX0 + 4).attr('y', ys[r] + 8)
        .attr('text-anchor', pre ? 'end' : 'start').attr('font-size', 23).text('N/A');
      return;
    }
    let b = bars[r];
    let bb = row[2] ? pLabel(g, pre ? preX1 - 62 : postX0 + 72, ys[r] + pSize * 0.36, row[2], b) : null;
    if (pre) {
      let edge = Math.min(b.x, bb ? bb.x : b.x) - 5;
      let tg = g;
      if (row[4] === 'cut') tg = g.append('g').attr('clip-path', addClip(0, ys[r] - 30, preX0 - 8, 60));
      rowLabel(tg, p, true, edge, base, row[0], row[1], bold, row[4] === 'cut' ? null : edge - 56);
    } else {
      let start = Math.max(b.x + b.w, bb ? bb.x + bb.width : 0) + 5;
      if (row[4] === 'wrap') {
        let tp = termText(g, row[0], false, st.term);
        tp.g.attr('transform', 'translate(' + start + ',' + base + ')');
        let gp = geneText(g, row[1], false, st.gene);
        let gw = gp.w * st.squeeze;
        gp.g.attr('transform', 'translate(' + (start + tp.w - gw) + ',' + (ys[r + 1] + st.term * 0.42) + ') scale(' + st.squeeze + ',1)');
      } else {
        rowLabel(g, p, false, start, base, row[0], row[1], bold, 1531 - start);
      }
    }
  });

  // GO labels, bracket, group name
  let gx = pre ? 567 : 1005;
  ys.forEach((yy, r) => {
    g.append('text').attr('transform', 'translate(' + gx + ',' + yy + ') rotate(' + (pre ? -90 : 90) + ')')
      .attr('text-anchor', 'middle').attr('dominant-baseline', 'central')
      .attr('font-size', 14).attr('fill', '#222').text('GO' + (r + 1));
  });
  let y1 = ys[0] - bh / 2 - 3, y2 = ay + 3, ym = (y1 + y2) / 2;
  let bx = pre ? 581 : 989, dir = pre ? -1 : 1;
  g.append('path')
    .attr('d', 'M' + (bx + dir * 7) + ',' + y1 + 'H' + bx + 'V' + y2 + 'H' + (bx + dir * 7) + 'M' + bx + ',' + ym + 'H' + (bx - dir * 9))
    .attr('fill', 'none').attr('stroke', '#222').attr('stroke-width', 1.6);
  g.append('text').attr('transform', 'translate(' + (pre ? 612 : 961) + ',' + ym + ') rotate(' + (pre ? -90 : 90) + ')')
    .attr('text-anchor', 'middle').attr('dominant-baseline', 'central')
    .attr('font-size', 21).attr('font-weight', 'bold').text((pre ? preGroups : postGroups)[gi]);
};

// Draw one trajectory scatter
let drawScatter = (p) => {
  let top = panelTop[p], bot = panelBot[p];
  let x = d3.scaleLinear().domain(xDom[p]).range([scX0, scX1]);
  let y = d3.scaleLinear().domain(yDom[p]).range([bot, top]);
  let g = svg.append('g');
  g.append('rect').attr('x', scX0).attr('y', top).attr('width', scX1 - scX0).attr('height', bot - top).attr('fill', '#fff');
  let inner = g.append('g').attr('clip-path', addClip(scX0, top, scX1 - scX0, bot - top));

  // grid (major + minor)
  let xt = xTickLabels[p].map(Number), yt = yTickLabels[p].map(Number);
  let xs = xt[1] - xt[0], ysd = yt[1] - yt[0];
  let xMinor = [xt[0] - xs / 2].concat(xt.map((v) => v + xs / 2));
  let yMinor = [yt[0] - ysd / 2].concat(yt.map((v) => v + ysd / 2));
  xMinor.forEach((v) => inner.append('line').attr('x1', x(v)).attr('x2', x(v)).attr('y1', top).attr('y2', bot).attr('stroke', '#f3f3f3'));
  yMinor.forEach((v) => inner.append('line').attr('y1', y(v)).attr('y2', y(v)).attr('x1', scX0).attr('x2', scX1).attr('stroke', '#f3f3f3'));
  xt.forEach((v) => inner.append('line').attr('x1', x(v)).attr('x2', x(v)).attr('y1', top).attr('y2', bot).attr('stroke', '#e6e6e6').attr('stroke-width', 1.2));
  yt.forEach((v) => inner.append('line').attr('y1', y(v)).attr('y2', y(v)).attr('x1', scX0).attr('x2', scX1).attr('stroke', '#e6e6e6').attr('stroke-width', 1.2));

  let expand = (cols) => {
    let pts = [];
    cols.forEach(([t, vals]) => vals.forEach((v) => pts.push([t, v])));
    return pts;
  };
  let greyPts = expand(grayCols[p]).concat(grayCloud[p]);
  let purplePts = expand(purpleCols[p]).concat(purpleCloud[p]);

  inner.selectAll('circle.g').data(greyPts).enter().append('circle')
    .attr('cx', (d) => x(d[0])).attr('cy', (d) => y(d[1])).attr('r', 3.8)
    .attr('fill', grey).attr('fill-opacity', 0.6);
  inner.selectAll('circle.p').data(purplePts).enter().append('circle')
    .attr('cx', (d) => x(d[0])).attr('cy', (d) => y(d[1])).attr('r', 3.8)
    .attr('fill', purple).attr('fill-opacity', 0.55);

  // smoothed fit with confidence band
  let band = d3.area().curve(d3.curveMonotoneX)
    .x((d) => x(d[0])).y0((d) => y(d[1] - d[2] * 2)).y1((d) => y(d[1] + d[2] * 2));
  inner.append('path').datum(fitCurve[p]).attr('d', band).attr('fill', '#fdd7b0').attr('fill-opacity', 0.55);
  let line = d3.line().curve(d3.curveMonotoneX).x((d) => x(d[0])).y((d) => y(d[1]));
  inner.append('path').datum(fitCurve[p]).attr('d', line).attr('fill', 'none')
    .attr('stroke', '#fab47c').attr('stroke-width', 2.6);

  // pre / post IP boxes
  let ipx = x(ipTime[p]);
  g.append('rect').attr('x', scX0 + 2).attr('y', top + 2).attr('width', ipx - scX0 - 2).attr('height', bot - top - 4)
    .attr('fill', 'none').attr('stroke', preColor).attr('stroke-width', 4);
  g.append('rect').attr('x', ipx).attr('y', top + 2).attr('width', scX1 - 2 - ipx).attr('height', bot - top - 4)
    .attr('fill', 'none').attr('stroke', postColor).attr('stroke-width', 4);
  g.append('line').attr('x1', ipx).attr('x2', ipx).attr('y1', top + 1).attr('y2', bot - 1)
    .attr('stroke', '#111').attr('stroke-width', 2.4).attr('stroke-dasharray', '7,4');

  // tick labels
  yTickLabels[p].forEach((lab) => {
    g.append('text').attr('x', 641).attr('y', y(+lab) + 3.5).attr('text-anchor', 'end')
      .attr('font-size', 10).attr('fill', '#777').text(lab);
  });
  xTickLabels[p].forEach((lab) => {
    g.append('text').attr('x', x(+lab)).attr('y', bot + 13).attr('text-anchor', 'middle')
      .attr('font-size', 10).attr('fill', '#777').text(lab);
  });

  if (p > 0) {
    g.append('text').attr('x', 653).attr('y', top - 7).attr('font-size', 29).attr('font-weight', 'bold').text('Pt.' + (p + 1));
    g.append('text').attr('x', ipx + 2).attr('y', top - 2).attr('text-anchor', 'middle')
      .attr('font-size', 27).attr('font-weight', 'bold').text('IP');
  }
};

// Panels
d3.range(7).forEach((p) => {
  let top = panelTop[p], bot = panelBot[p];
  svg.append('rect').attr('x', 1).attr('y', top).attr('width', W - 2).attr('height', bot - top)
    .attr('fill', '#fff').attr('stroke', '#333').attr('stroke-width', 2);
  svg.append('rect').attr('x', 1).attr('y', top).attr('width', 49).attr('height', bot - top).attr('fill', preColor);
  svg.append('rect').attr('x', 1535).attr('y', top).attr('width', W - 1536).attr('height', bot - top).attr('fill', postColor);
  svg.append('text').attr('transform', 'translate(26,' + (top + bot) / 2 + ') rotate(-90)')
    .attr('text-anchor', 'middle').attr('dominant-baseline', 'central')
    .attr('font-size', 30).attr('fill', '#fff').text('Pre-IP');
  svg.append('text').attr('transform', 'translate(1558,' + (top + bot) / 2 + ') rotate(90)')
    .attr('text-anchor', 'middle').attr('dominant-baseline', 'central')
    .attr('font-size', 30).attr('fill', '#fff').text('Post-IP');

  drawGroup(p, 'pre', 0);
  drawGroup(p, 'pre', 1);
  drawGroup(p, 'post', 0);
  drawGroup(p, 'post', 1);
  drawScatter(p);
});
</script>
</body>
</html>
